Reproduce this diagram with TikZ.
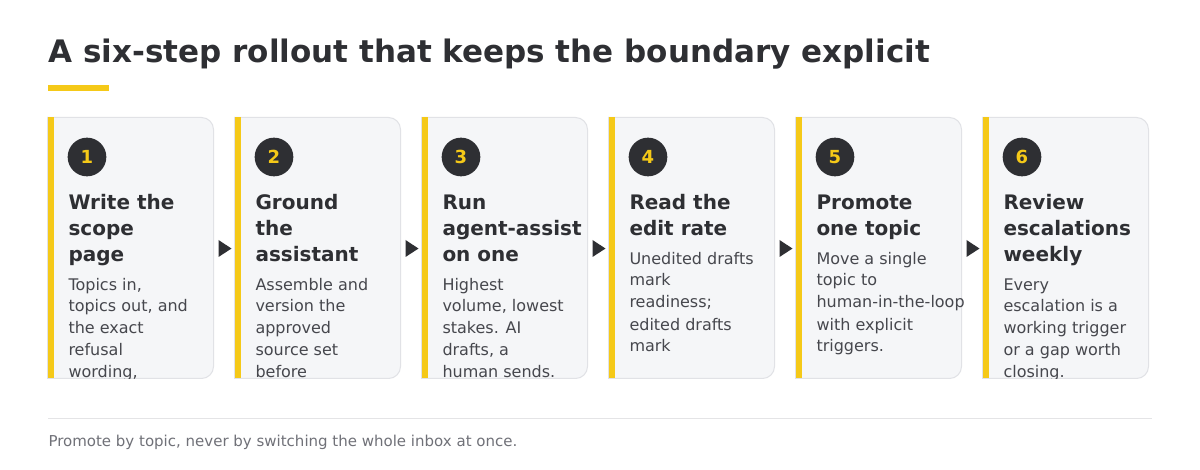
\documentclass[tikz,border=0pt]{standalone}
\usepackage{fontspec}
\setmainfont{DejaVu Sans}
\usetikzlibrary{positioning}

\definecolor{ink}{HTML}{2E2F33}
\definecolor{bodyink}{HTML}{46474D}
\definecolor{muted}{HTML}{707178}
\definecolor{brand}{HTML}{F5C918}
\definecolor{cardfill}{HTML}{F5F6F8}
\definecolor{cardline}{HTML}{E1E2E6}
\definecolor{rulegray}{HTML}{E4E4E6}

\tikzset{every picture/.style={line width=0.75pt}}
\tikzset{
  headline/.style={anchor=base west,inner sep=0pt,text=ink,font=\bfseries\fontsize{23.25}{28}\selectfont},
  cardframe/.style={draw=none,inner sep=0pt,minimum width=123.75pt,minimum height=195pt},
  cardbox/.style={fill=cardfill,draw=cardline,line width=0.75pt},
  badge/.style={circle,fill=ink,inner sep=0pt,minimum size=29pt,text=brand,font=\bfseries\fontsize{13.5}{16}\selectfont},
  steptitle/.style={anchor=base west,inner sep=0pt,align=left,text=ink,font=\bfseries\fontsize{15}{19.5}\selectfont},
  stepbody/.style={anchor=base west,inner sep=0pt,align=left,text=bodyink,font=\fontsize{12}{16.5}\selectfont},
  footnote/.style={anchor=base west,inner sep=0pt,text=muted,font=\fontsize{11.25}{14}\selectfont}
}

\begin{document}
\begin{tikzpicture}[x=0.75pt,y=0.75pt,yscale=-1,xscale=1]
\useasboundingbox[fill=white] (0,0) rectangle (1200,470);

% Heading
\node[headline] (heading) at (48,63) {A six-step rollout that keeps the boundary explicit};
\fill[brand] (48,85) rectangle (109,91);

% Cards (base anchor sits on the last line)
\foreach \n/\nl/\ttl/\bdy in {
  1/3/{Write the\\scope\\page}/{Topics in,\\topics out, and\\the exact\\refusal\\wording,},
  2/3/{Ground\\the\\assistant}/{Assemble and\\version the\\approved\\source set\\before},
  3/3/{Run\\agent-assist\\on one}/{Highest\\volume, lowest\\stakes. AI\\drafts, a\\human sends.},
  4/2/{Read the\\edit rate}/{Unedited drafts\\mark\\readiness;\\edited drafts\\mark},
  5/2/{Promote\\one topic}/{Move a single\\topic to\\human-in-the-loop\\with explicit\\triggers.},
  6/3/{Review\\escalations\\weekly}/{Every\\escalation is a\\working trigger\\or a gap worth\\closing.}}
{
  \pgfmathsetmacro{\xo}{48+187*(\n-1)}
  \pgfmathsetmacro{\yt}{210+26*(\nl-1)}
  \node[cardframe] (card\n) at (\xo+82.5,248) {};
  \draw[cardbox] (card\n.south west) -- (card\n.north west) [rounded corners=9pt] -- (card\n.north east) -- (card\n.south east) -- ([xshift=20pt]card\n.south west) [sharp corners] -- (card\n.south west) -- cycle;
  \fill[brand] (card\n.north west) rectangle ([xshift=4.5pt]card\n.south west);
  \node[badge] (num\n) at (\xo+39,157) {\n};
  \begin{scope}
    \clip (card\n.north west) rectangle ([xshift=6pt]card\n.south east);
    \node[steptitle] (title\n) at (\xo+20,\yt) {\ttl};
    \node[stepbody] (body\n) at (\xo+20,\yt+28+88) {\bdy};
  \end{scope}
}

% Arrows between cards
\foreach \a/\b in {1/2,2/3,3/4,4/5,5/6}
  \fill[ink] ([xshift=3.75pt,yshift=6.75pt]card\a.east) -- ([xshift=13.5pt,yshift=0.4pt]card\a.east) -- ([xshift=3.75pt,yshift=-6pt]card\a.east) -- cycle;

% Footer
\draw[rulegray] (48,418) -- (1152,418);
\node[footnote] (note) at (48,446) {Promote by topic, never by switching the whole inbox at once.};

\end{tikzpicture}
\end{document}
